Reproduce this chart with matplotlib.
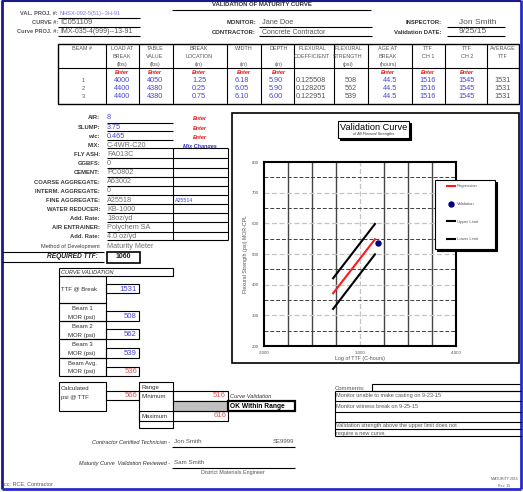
import numpy as np
import matplotlib
matplotlib.use("Agg")
import matplotlib.pyplot as plt
from matplotlib.patches import Rectangle

plt.rcParams['font.family'] = ['Liberation Sans', 'DejaVu Sans']

# ---------------- data ----------------
beam_ids = ["1", "2", "3"]
load_at_break = ["4000", "4400", "4400"]
table_value = ["4050", "4380", "4380"]
break_location = ["1.25", "0.25", "0.75"]
width_in = ["6.18", "6.05", "6.10"]
depth_in = ["5.90", "5.90", "6.00"]
flex_coef = ["0.125508", "0.128205", "0.122951"]
flex_strength = ["508", "562", "539"]
age_at_break = ["44.5", "44.5", "44.5"]
ttf_ch1 = ["1516", "1516", "1516"]
ttf_ch2 = ["1545", "1545", "1545"]
avg_ttf = ["1531", "1531", "1531"]

mix_labels = ["AIR:", "SLUMP:", "w/c:", "MIX:", "FLY ASH:", "GGBFS:", "CEMENT:",
              "COARSE AGGREGATE:", "INTERM. AGGREGATE:", "FINE AGGREGATE:",
              "WATER REDUCER:", "Add. Rate:", "AIR ENTRAINER:", "Add. Rate:",
              "Method of Development"]
mix_values = ["8", "3.75", "0.465", "C-4WR-C20", "FA013C", "0", "PC0802", "A63002",
              "0", "A25518", "KB-1000", "18oz/yd", "Polychem SA", "4.0 oz/yd",
              "Maturity Meter"]
required_ttf = "1060"

ttf_at_break = "1531"
beam_mor = ["508", "562", "539"]
beam_avg_mor = "536"
calc_psi = "566"
range_min = "516"
range_max = "616"

comments = ["Monitor unable to make casting on 9-23-15",
            "Monitor witness break on 9-25-15",
            "",
            "Validation strength above the upper limit does not",
            "require a new curve."]

# chart series (x = log10 TTF, y = flexural strength psi)
reg_x = [2.72, 3.156]
reg_y = [372, 548]
upper_x = [2.72, 3.156]
upper_y = [421, 598]
lower_x = [2.72, 3.156]
lower_y = [321, 499]
val_ttf = [1531]
val_mor = [536]

# ---------------- figure ----------------
W, H = 523, 492
fig = plt.figure(figsize=(W / 100, H / 100), dpi=100)
fig.patch.set_facecolor('white')

ov = fig.add_axes([0, 0, 1, 1], zorder=0)
ov.set_xlim(0, W); ov.set_ylim(H, 0); ov.axis('off')

GRAY = '#555555'
DARK = '#303030'
BLUE = '#4646d8'
LBLUE = '#7a7af0'
RED = '#e01818'
SALMON = '#e05a5a'


def T(x, y, s, ha='left', va='center', size=5, color=GRAY, weight='normal',
      style='normal', ax=None):
    (ax or ov).text(x, y, s, ha=ha, va=va, fontsize=size, color=color,
                    fontweight=weight, fontstyle=style)


def L(x0, y0, x1, y1, lw=0.8, color='black'):
    ov.plot([x0, x1], [y0, y1], color=color, lw=lw, solid_capstyle='butt')


def R(x0, y0, x1, y1, lw=0.8, fc='none', ec='black', ax=None, z=1):
    (ax or ov).add_patch(Rectangle((x0, y0), x1 - x0, y1 - y0, lw=lw,
                                   fc=fc, ec=ec, zorder=z))


# page border
L(1.5, 0, 1.5, 489, lw=2, color='#1a1a8c')
L(521, 0, 521, 489, lw=2, color='#2a2acc')
L(1.5, 488.5, 521, 488.5, lw=2, color='#2a2acc')
L(1.5, 0.8, 521, 0.8, lw=1.5, color='#1a1a8c')

# ---------------- header ----------------
T(262, 5, "VALIDATION OF MATURITY CURVE", ha='center', size=4.3, weight='bold', color=DARK)
L(172, 9.5, 371, 9.5)
T(58, 13.5, "VAL. PROJ. #:", ha='right', size=4.1, weight='bold', color=GRAY)
T(60, 13.5, "NHSX-092-5(51)--3H-91", size=4.1, color=LBLUE)
L(58, 17.5, 140, 17.5)
T(58, 22.5, "CURVE #:", ha='right', size=4.1, weight='bold', color=GRAY)
T(60, 22.5, "IC051109", size=5.5, color=GRAY)
L(58, 27, 140, 27)
T(58, 31.5, "Curve PROJ. #:", ha='right', size=4.1, weight='bold', color=GRAY)
T(60, 31.5, "IMX-035-4(999)--13-91", size=5.0, color=GRAY)
L(58, 35.5, 140, 35.5)

T(256, 23, "MONITOR:", ha='right', size=4.2, weight='bold', color=DARK)
T(262, 22.5, "Jane Doe", size=5.3, color=GRAY)
L(259, 26.5, 372, 26.5)
T(256, 33, "CONTRACTOR:", ha='right', size=4.2, weight='bold', color=DARK)
T(262, 32.5, "Concrete Contractor", size=5.0, color=GRAY)
L(259, 36, 372, 36)

T(442, 23, "INSPECTOR:", ha='right', size=4.2, weight='bold', color=DARK)
T(478, 22, "Jon Smith", ha='center', size=6.0, color=GRAY)
L(447, 26.5, 505, 26.5)
T(442, 33, "Validation DATE:", ha='right', size=4.3, weight='bold', color=DARK)
T(473, 31.5, "9/25/15", ha='center', size=6.0, color=GRAY)
L(447, 35.5, 505, 35.5)

# ---------------- beam table ----------------
col_edges = [58, 106, 139, 173, 227, 261, 294, 334, 368, 412, 445, 487, 519]
R(58, 44, 519, 104, lw=1.0)
for xe in col_edges[1:-1]:
    L(xe, 44, xe, 104, lw=0.8)
L(58, 68, 519, 68, lw=0.8)

headers = [("BEAM #", "", ""), ("LOAD AT", "BREAK", "(lbs)"), ("TABLE", "VALUE", "(lbs)"),
           ("BREAK", "LOCATION", "(in)"), ("WIDTH", "", "(in)"), ("DEPTH", "", "(in)"),
           ("FLEXURAL", "COEFFICIENT", ""), ("FLEXURAL", "STRENGTH", "(psi)"),
           ("AGE AT", "BREAK", "(hours)"), ("TTF", "CH 1", ""), ("TTF", "CH 2", ""),
           ("AVERAGE", "TTF", "")]
head_x = [82, 122, 155, 199, 244, 279, 312, 348, 388, 428, 467, 503]
for hx, (h1, h2, h3) in zip(head_x, headers):
    T(hx, 48.5, h1, ha='center', size=3.9)
    T(hx, 56.5, h2, ha='center', size=3.9)
    T(hx, 64.5, h3, ha='center', size=3.9)

enter_cols = [1, 2, 3, 4, 5, 8, 9, 10]
for i in enter_cols:
    T(head_x[i], 72.5, "Enter", ha='center', size=4.0, color=RED, weight='bold', style='italic')

row_y = [80.5, 88.5, 96]
cols_data = [(beam_ids, GRAY), (load_at_break, BLUE), (table_value, BLUE),
             (break_location, BLUE), (width_in, BLUE), (depth_in, BLUE),
             (flex_coef, GRAY), (flex_strength, GRAY), (age_at_break, BLUE),
             (ttf_ch1, BLUE), (ttf_ch2, BLUE), (avg_ttf, GRAY)]
val_x = [83, 122, 155, 199, 242, 276, 296, 351, 390, 428, 467, 503]
for ci, (vals, colr) in enumerate(cols_data):
    for ry, v in zip(row_y, vals):
        if ci == 6:
            T(val_x[ci], ry, v, ha='left', size=5.2, color=colr)
        else:
            T(val_x[ci], ry, v, ha='center', size=5.2 if ci else 4.0, color=colr)

# ---------------- mix section ----------------
mix_y = [117.8, 127.8, 136.8, 145.8, 154.5, 163.5, 172.5, 182.2, 191.2, 200.5, 209.5,
         218.5, 227.7, 236.8, 246.5]
for i, (lab, val, my) in enumerate(zip(mix_labels, mix_values, mix_y)):
    T(100, my, lab, ha='right', size=4.2 if i != 14 else 4.0,
      weight='bold' if i != 14 else 'normal', color='#3a3a3a')
    T(107, my - 0.3, val, size=5.2, color=BLUE if i < 3 else '#707070')
for uy in [122.5, 131.2, 139.5]:
    L(107, uy, 173, uy)
box_lines = [148.3, 158.3, 167.7, 176.7, 186, 195, 204.3, 213.3, 222.3, 231.7, 240]
for by in box_lines:
    L(107, by, 228, by)
L(173, 148.3, 173, 240)
L(228, 148.3, 228, 240)
for my in mix_y[:3]:
    T(200, my + 0.3, "Enter", ha='center', size=4.0, color=RED, weight='bold', style='italic')
T(200, 146.3, "Mix Changes", ha='center', size=4.0, color='#3030c0', weight='bold', style='italic')
T(175, 201, "A25514", size=3.8, color=BLUE)

# required TTF
L(2, 252, 104, 252)
L(2, 262, 104, 262)
T(98, 257, "REQUIRED TTF:", ha='right', size=4.8, weight='bold', style='italic', color='#202020')
R(107, 252, 140, 262.5, lw=1.2)
T(123.5, 257, required_ttf, ha='center', size=5.0, weight='bold', color='#202020')

# ---------------- curve validation ----------------
R(59, 268, 173, 276)
T(61, 272, "CURVE VALIDATION", size=4.0, style='italic', color=DARK)
blocks = [(276, 303), (303, 321), (321, 339), (339, 358), (358, 376)]
for b0, b1 in blocks:
    R(59, b0, 106, b1)
T(61, 289, "TTF @ Break", size=4.3, color=DARK)
vboxes = [(284.3, 293.3), (311, 320.7), (329, 339), (348, 358), (367, 376)]
vals_cv = [ttf_at_break] + beam_mor + [beam_avg_mor]
vcols = [BLUE, BLUE, BLUE, BLUE, SALMON]
for (v0, v1), v, c in zip(vboxes, vals_cv, vcols):
    R(106, v0, 139, v1)
    T(137, (v0 + v1) / 2 + 0.3, v, ha='right', size=5.6, color=c)
beam_lbls = ["Beam 1", "Beam 2", "Beam 3", "Beam Avg."]
lbl_y = [(308, 317), (326, 335), (345, 354), (363.5, 372)]
for bl, (y1, y2) in zip(beam_lbls, lbl_y):
    T(82, y1, bl, ha='center', size=4.3, color=DARK)
    T(82, y2, "MOR (psi)", ha='center', size=4.3, color=DARK)

# calculated / range
R(59, 382, 106, 411)
T(61, 388, "Calculated", size=4.3, color=DARK)
T(61, 397.5, "psi @ TTF", size=4.3, color=DARK)
R(106, 391, 139, 400)
T(137, 395.8, calc_psi, ha='right', size=5.6, color=SALMON)
R(139, 382, 173, 428)
L(139, 391, 173, 391)
T(141, 387, "Range", size=4.3, color=DARK)
T(141, 396.5, "Minimum", size=4.3, color=DARK)
R(173, 391, 228, 400.5)
T(226, 395.8, range_min, ha='right', size=5.6, color=SALMON)
R(173, 400.5, 228, 410.7, fc='#c0c0c0')
R(139, 410.7, 228, 420.7)
T(141, 416, "Maximum", size=4.3, color=DARK)
T(226, 415.5, range_max, ha='right', size=5.6, color=SALMON)
T(230, 396.5, "Curve Validation", size=4.1, style='italic', color=DARK)
R(228, 401, 295, 411, lw=1.6)
T(230, 406, "OK Within Range", size=4.8, weight='bold', color='black')

# signatures
T(172, 442, "Contractor Certified Technician - ", ha='right', size=4.0, style='italic', color=DARK)
T(174, 441.5, "Jon Smith", size=4.5, color=GRAY)
T(294, 441.5, "SE9999", ha='right', size=4.3, color=GRAY)
L(172, 446.5, 295, 446.5)
T(172, 463, "Maturity Curve  Validation Reviewed - ", ha='right', size=4.0, style='italic', color=DARK)
T(174, 462.5, "Sam Smith", size=4.5, color=GRAY)
L(172, 467.5, 295, 467.5)
T(233, 472.5, "District Materials Engineer", ha='center', size=3.9, color=GRAY)
T(4, 484, "cc: RCE, Contractor", size=4.0, color=GRAY)

# comments
T(335, 388, "Comments:", size=4.3, color=GRAY)
R(372, 384, 521, 391)
for cy in [391, 401, 412, 422, 429, 436]:
    L(335, cy, 521, cy)
L(335, 391, 335, 436)
cm_y = [396, 406.5, 417, 425.5, 433]
for cy, ct in zip(cm_y, comments):
    T(336, cy, ct, size=4.0, color=GRAY)
T(518, 479, "MATURITY 2015", ha='right', size=2.6, color=GRAY)
T(510, 486, "Rev. 15", ha='right', size=2.6, color=GRAY)

# chart frame box
R(232, 113, 519, 363, lw=1.2)

# ---------------- chart ----------------
px0, px1, py0, py1 = 264, 456, 162, 346
ax = fig.add_axes([px0 / W, 1 - py1 / H, (px1 - px0) / W, (py1 - py0) / H], zorder=1)
ax.set_xlim(2, 4)
ax.set_ylim(200, 800)
for xv in np.arange(2.25, 3.8, 0.25):
    if abs(xv - 3.0) < 1e-6:
        ax.axvline(xv, color='#c4c4c4', lw=0.9, ls=(0, (4, 2)), zorder=1)
    else:
        ax.axvline(xv, color='#454545', lw=1.0, zorder=1)
for yv in range(250, 800, 100):
    ax.axhline(yv, color='#404040', lw=0.7, ls=(0, (4, 2)), zorder=1)
for yv in range(300, 800, 100):
    ax.axhline(yv, color='#c4c4c4', lw=0.9, ls=(0, (4, 2)), zorder=1)

l_reg, = ax.plot(reg_x, reg_y, color='#ff1a1a', lw=1.5, label='Regression', zorder=3)
l_val, = ax.plot(np.log10(val_ttf), val_mor, ls='none', marker='o', ms=3.6,
                 color='#000080', label='Validation', zorder=4)
l_up, = ax.plot(upper_x, upper_y, color='black', lw=1.5, label='Upper Limit', zorder=3)
l_lo, = ax.plot(lower_x, lower_y, color='black', lw=1.5, label='Lower Limit', zorder=3)

ax.set_xticks([2, 3, 4])
ax.set_xticklabels([f"{v:.3f}" for v in [2, 3, 4]])
ax.set_yticks(range(200, 801, 100))
ax.tick_params(length=0, labelsize=3.2, labelcolor=GRAY, pad=3.5)
for sp in ax.spines.values():
    sp.set_linewidth(1.5)
ax.set_xlabel("Log of TTF (C-hours)", fontsize=3.8, color=GRAY, labelpad=0.5)
ax.set_ylabel("Flexural Strength (psi) MOR-CPL", fontsize=3.8, color=GRAY, labelpad=3)

# top overlay: title box + legend
ov2 = fig.add_axes([0, 0, 1, 1], zorder=2)
ov2.set_xlim(0, W); ov2.set_ylim(H, 0); ov2.axis('off')
R(340, 123, 411, 140, fc='black', ec='black', ax=ov2, z=1)
R(338, 121, 409, 138, fc='white', ec='black', lw=0.8, ax=ov2, z=2)
ov2.text(373.5, 127.5, "Validation Curve", ha='center', va='center', fontsize=6.6,
         color='black', zorder=3)
ov2.text(373.5, 134.5, "of All Flexural Strengths", ha='center', va='center', fontsize=2.8,
         fontstyle='italic', color=DARK, zorder=3)

R(437, 182, 497, 251, fc='black', ec='black', ax=ov2, z=1)
R(435, 180, 495, 249, fc='white', ec='black', lw=0.8, ax=ov2, z=2)
leg = ov2.legend(handles=[l_reg, l_val, l_up, l_lo], loc='upper left',
                 bbox_to_anchor=(446.5 / W, 1 - 184.5 / H), bbox_transform=fig.transFigure,
                 frameon=False, fontsize=3.0, labelspacing=3.25, handlelength=2.1,
                 handletextpad=0.35, borderpad=0, borderaxespad=0, labelcolor=GRAY)
leg.set_zorder(5)

fig.savefig("out.png", dpi=100, facecolor='white')
